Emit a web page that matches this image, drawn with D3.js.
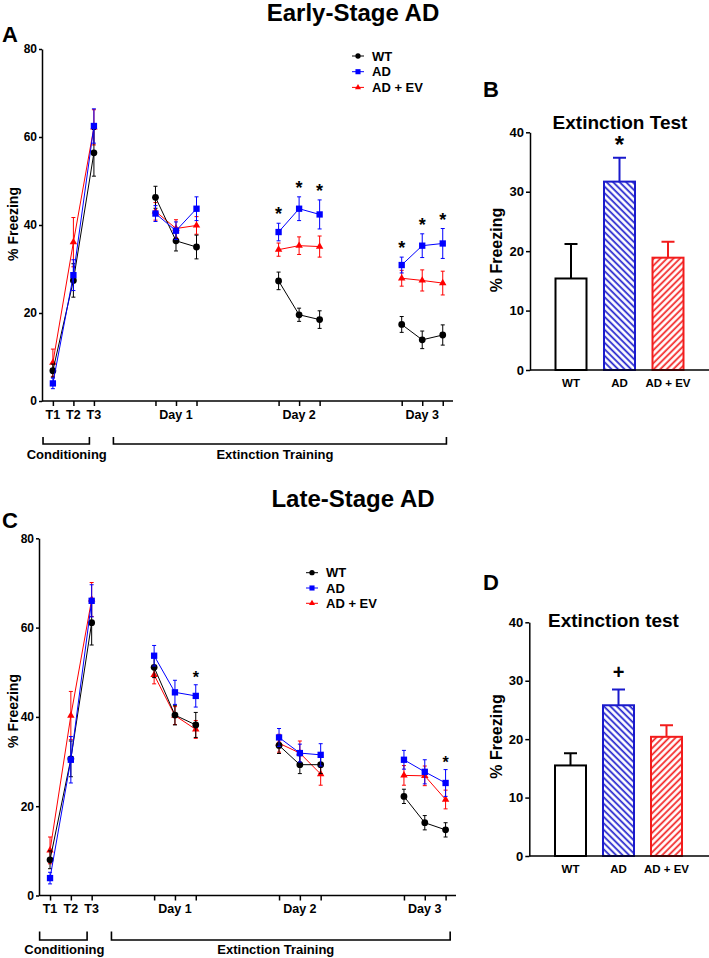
<!DOCTYPE html>
<html><head><meta charset="utf-8">
<script src="https://cdn.jsdelivr.net/npm/d3@7"></script>
<style>
body{margin:0;background:#fff}
svg{display:block;font-family:"Liberation Sans",Arial,sans-serif;font-weight:bold}
</style>
</head><body>
<svg id="c" width="709" height="958"></svg>
<script>
// ---------------- DATA ----------------
const groups = ["WT", "AD", "AD + EV"];
const trials = ["T1","T2","T3","D1-1","D1-2","D1-3","D2-1","D2-2","D2-3","D3-1","D3-2","D3-3"];
const trialSlots = [0,1,2,5,6,7,11,12,13,17,18,19];
const trialSession = [0,0,0,1,1,1,2,2,2,3,3,3];
const trialTickLabels = ["T1","T2","T3","","Day 1","","","Day 2","","","Day 3",""];

// Panel A: Early-Stage AD (% freezing, mean and SEM)
const earlyWT     = [6.9, 27.4, 56.4, 46.3, 36.4, 35.0, 27.3, 19.6, 18.5, 17.4, 13.9, 15.0];
const earlyWTErr  = [1.5, 3.8, 5.3, 2.5, 2.3, 2.7, 2.0, 1.5, 2.0, 1.8, 2.0, 2.3];
const earlyAD     = [4.0, 28.6, 62.5, 42.6, 38.7, 43.7, 38.4, 43.7, 42.4, 30.9, 35.3, 35.8];
const earlyADErr  = [1.2, 3.5, 3.9, 1.8, 2.0, 2.7, 2.0, 2.7, 3.3, 1.8, 2.7, 3.4];
const earlyEV     = [8.7, 36.1, 62.2, 43.1, 39.2, 39.9, 34.4, 35.3, 35.1, 27.9, 27.4, 26.8];
const earlyEVErr  = [3.1, 5.6, 4.0, 2.0, 2.0, 2.0, 1.5, 2.0, 2.4, 1.8, 2.4, 2.7];
const earlyStars  = [6, 7, 8, 9, 10, 11];   // trial indices marked * above AD

// Panel C: Late-Stage AD
const lateWT     = [8.0, 30.6, 61.1, 51.1, 40.4, 38.2, 33.6, 29.3, 29.3, 22.2, 16.3, 14.7];
const lateWTErr  = [2.0, 4.0, 5.0, 2.3, 2.2, 2.8, 1.8, 2.0, 2.0, 1.6, 1.6, 1.6];
const lateAD     = [3.9, 30.4, 66.0, 53.7, 45.5, 44.7, 35.4, 31.9, 31.5, 30.4, 27.7, 25.2];
const lateADErr  = [1.3, 5.2, 3.6, 2.3, 2.7, 2.5, 2.0, 2.0, 2.5, 2.1, 2.7, 3.0];
const lateEV     = [10.1, 40.3, 66.3, 49.4, 40.3, 37.2, 34.1, 31.9, 27.2, 26.9, 26.8, 21.5];
const lateEVErr  = [3.0, 5.4, 3.8, 2.0, 2.0, 2.0, 2.0, 2.7, 2.5, 2.2, 2.2, 2.1];
const lateStars  = [5, 11];

// Panel B / D: extinction test bars
const testEarly    = [15.4, 31.7, 18.9];
const testEarlyErr = [5.8, 4.0, 2.7];
const testLate     = [15.5, 25.8, 20.4];
const testLateErr  = [2.1, 2.7, 2.0];

const lineTicks = [0, 20, 40, 60, 80];
const barTicks  = [0, 10, 20, 30, 40];

// ---------------- STYLE ----------------
const colLine = {"WT": "#000000", "AD": "#0000ff", "AD + EV": "#ff0000"};
const colBar  = {"WT": "#000000", "AD": "#1a1acc", "AD + EV": "#f21c1c"};
const symType = {"WT": d3.symbolCircle, "AD": d3.symbolSquare, "AD + EV": d3.symbolTriangle};
const symSize = {"WT": 36, "AD": 40, "AD + EV": 24};
const legSize = {"WT": 22, "AD": 26, "AD + EV": 16};

const svg = d3.select("#c");
const defs = svg.append("defs");
function hatch(id, color, angle) {
  const s = 4.6;
  const p = defs.append("pattern").attr("id", id).attr("patternUnits", "userSpaceOnUse")
    .attr("width", s).attr("height", s).attr("patternTransform", `rotate(${angle})`);
  p.append("rect").attr("width", s).attr("height", s).attr("fill", "#fff");
  p.append("line").attr("x1", 1.2).attr("x2", 1.2).attr("y1", 0).attr("y2", s)
    .attr("stroke", color).attr("stroke-width", 1.7);
}
hatch("hAD", colBar["AD"], -45);
hatch("hEV", colBar["AD + EV"], 45);
const barFill = {"WT": "#fff", "AD": "url(#hAD)", "AD + EV": "url(#hEV)"};

function styleAxis(g, fs) {
  g.select(".domain").attr("stroke", "#000").attr("stroke-width", 1.5);
  g.selectAll(".tick line").attr("stroke", "#000").attr("stroke-width", 1.5);
  g.selectAll(".tick text").attr("fill", "#000").attr("font-size", fs).attr("font-weight", "bold")
    .attr("font-family", '"Liberation Sans",Arial,sans-serif');
}

function text(x, y, s, fs, anchor) {
  return svg.append("text").attr("x", x).attr("y", y).attr("font-size", fs)
    .attr("text-anchor", anchor || "middle").attr("fill", "#000").text(s);
}

// ---------------- LINE PANELS ----------------
function linePanel(cfg) {
  const x = d3.scaleLinear().domain([-0.53, 19.5]).range(cfg.xr);
  const y = d3.scaleLinear().domain([0, 80]).range(cfg.yr);
  // y axis
  const gy = svg.append("g").attr("transform", `translate(${cfg.xr[0]},0)`)
    .call(d3.axisLeft(y).tickValues(lineTicks).tickSize(3).tickPadding(2).tickSizeOuter(0));
  styleAxis(gy, 12);
  // x axis
  const gx = svg.append("g").attr("transform", `translate(0,${cfg.yr[0]})`)
    .call(d3.axisBottom(x).tickValues(trialSlots).tickSize(5).tickSizeOuter(0).tickFormat(() => ""));
  styleAxis(gx, 12);
  gx.select(".domain").attr("d", `M${cfg.xr[0]},0H${cfg.xr[1]}`);
  trialSlots.forEach((s, i) => {
    if (trialTickLabels[i]) text(x(s), cfg.yr[0] + cfg.tickLabDy, trialTickLabels[i], 12.5);
  });
  // brackets
  cfg.brackets.forEach(b => {
    const x0 = x(b.from), x1 = x(b.to);
    svg.append("path").attr("d", `M${x0},${cfg.brY0}V${cfg.brY1}H${x1}V${cfg.brY0}`)
      .attr("fill", "none").attr("stroke", "#000").attr("stroke-width", 1.6);
    text((x0 + x1) / 2 + b.dx, cfg.brText, b.label, 13);
  });
  // y label
  svg.append("text").attr("transform", `translate(${cfg.ylab[0]},${cfg.ylab[1]}) rotate(-90)`)
    .attr("text-anchor", "middle").attr("font-size", 14).text("% Freezing");
  // series
  const order = ["AD + EV", "WT", "AD"];
  order.forEach(gname => {
    const s = cfg.series[gname];
    const c = colLine[gname];
    const g = svg.append("g");
    // lines per session
    d3.range(4).forEach(sess => {
      const idx = d3.range(trials.length).filter(i => trialSession[i] === sess);
      g.append("path").datum(idx)
        .attr("d", d3.line().x(i => x(trialSlots[i])).y(i => y(s.v[i])))
        .attr("fill", "none").attr("stroke", c).attr("stroke-width", 1);
    });
    // error bars
    s.v.forEach((v, i) => {
      const cx = x(trialSlots[i]);
      const t = y(v + s.e[i]), b = y(v - s.e[i]);
      g.append("path").attr("d", `M${cx},${t}V${b}M${cx - 2},${t}H${cx + 2}M${cx - 2},${b}H${cx + 2}`)
        .attr("stroke", c).attr("stroke-width", 1).attr("fill", "none");
    });
    // markers
    g.selectAll("path.m").data(s.v).join("path").attr("class", "m")
      .attr("transform", (v, i) => `translate(${x(trialSlots[i])},${y(v)})`)
      .attr("d", d3.symbol().type(symType[gname]).size(symSize[gname]))
      .attr("fill", c);
  });
  // stars
  cfg.stars.forEach(i => {
    const ad = cfg.series["AD"];
    const top = y(ad.v[i] + ad.e[i]);
    text(x(trialSlots[i]), top - cfg.starGap + 0.56 * cfg.starFs, "*", cfg.starFs);
  });
  // legend
  groups.forEach((gname, k) => {
    const ly = cfg.leg[1] + k * cfg.legStep;
    const lx = cfg.leg[0];
    svg.append("line").attr("x1", lx - 6).attr("x2", lx + 6).attr("y1", ly).attr("y2", ly)
      .attr("stroke", colLine[gname]).attr("stroke-width", 1);
    svg.append("path").attr("transform", `translate(${lx},${ly})`)
      .attr("d", d3.symbol().type(symType[gname]).size(legSize[gname])).attr("fill", colLine[gname]);
    text(lx + 14, ly + 4.6, gname, 13, "start");
  });
  // titles
  text(cfg.title[0], cfg.title[1], cfg.titleText, 24);
  text(cfg.letter[0], cfg.letter[1], cfg.letterText, 22, "start");
}

linePanel({
  xr: [42, 453], yr: [401, 49], tickLabDy: 18,
  series: {"WT": {v: earlyWT, e: earlyWTErr}, "AD": {v: earlyAD, e: earlyADErr}, "AD + EV": {v: earlyEV, e: earlyEVErr}},
  brackets: [{from: -0.48, to: 1.78, label: "Conditioning", dx: 0.5}, {from: 2.95, to: 19.18, label: "Extinction Training", dx: -5}],
  brY0: 437, brY1: 444, brText: 459,
  ylab: [18, 224], stars: earlyStars, starGap: 13, starFs: 18,
  leg: [358, 56], legStep: 15.7,
  title: [353, 20.5], titleText: "Early-Stage AD",
  letter: [2, 42], letterText: "A"
});

linePanel({
  xr: [39, 456], yr: [895.5, 538.3], tickLabDy: 17,
  series: {"WT": {v: lateWT, e: lateWTErr}, "AD": {v: lateAD, e: lateADErr}, "AD + EV": {v: lateEV, e: lateEVErr}},
  brackets: [{from: -0.5, to: 1.78, label: "Conditioning", dx: 1}, {from: 2.95, to: 19.22, label: "Extinction Training", dx: -5}],
  brY0: 931.5, brY1: 940, brText: 954,
  ylab: [18, 711], stars: lateStars, starGap: 11, starFs: 16,
  leg: [312, 572.7], legStep: 15.3,
  title: [353, 507], titleText: "Late-Stage AD",
  letter: [2, 528], letterText: "C"
});

// ---------------- BAR PANELS ----------------
function barPanel(cfg) {
  const x = d3.scalePoint().domain(groups).range(cfg.centers);
  const y = d3.scaleLinear().domain([0, 40]).range(cfg.yr);
  const bw = 31;
  groups.forEach((gname, i) => {
    const cx = x(gname), v = cfg.v[i], e = cfg.e[i];
    svg.append("path").attr("d", `M${cx},${y(v)}V${y(v + e)}M${cx - 6.5},${y(v + e)}H${cx + 6.5}`)
      .attr("stroke", colBar[gname]).attr("stroke-width", 2).attr("fill", "none");
    svg.append("rect").attr("x", cx - bw / 2).attr("y", y(v)).attr("width", bw).attr("height", y(0) - y(v))
      .attr("fill", barFill[gname]).attr("stroke", colBar[gname]).attr("stroke-width", 2);
    text(cx, cfg.yr[0] + 17, gname, 11.5);
  });
  const gy = svg.append("g").attr("transform", `translate(${cfg.axX},0)`)
    .call(d3.axisLeft(y).tickValues(barTicks).tickSize(4).tickPadding(2).tickSizeOuter(0));
  styleAxis(gy, 13);
  svg.append("line").attr("x1", cfg.axX).attr("x2", 709).attr("y1", cfg.yr[0]).attr("y2", cfg.yr[0])
    .attr("stroke", "#000").attr("stroke-width", 1.5);
  svg.append("text").attr("transform", `translate(${cfg.ylab[0]},${cfg.ylab[1]}) rotate(-90)`)
    .attr("text-anchor", "middle").attr("font-size", 16).text("% Freezing");
  text(cfg.title[0], cfg.title[1], cfg.titleText, 19);
  const adI = groups.indexOf("AD");
  const top = y(cfg.v[adI] + cfg.e[adI]);
  text(x("AD"), top - cfg.markGap, cfg.mark, cfg.markFs);
  text(cfg.letter[0], cfg.letter[1], cfg.letterText, 22, "start");
}

barPanel({
  v: testEarly, e: testEarlyErr, centers: [571, 668], yr: [370, 132.3], axX: 530,
  ylab: [502, 250], title: [620, 129], titleText: "Extinction Test",
  mark: "*", markGap: 5, markFs: 24,
  letter: [483, 97], letterText: "B"
});
barPanel({
  v: testLate, e: testLateErr, centers: [570.5, 666.5], yr: [856, 622.3], axX: 529.3,
  ylab: [502, 736.5], title: [613.5, 627], titleText: "Extinction test",
  mark: "+", markGap: 10, markFs: 20,
  letter: [483, 590], letterText: "D"
});
</script>
</body></html>
